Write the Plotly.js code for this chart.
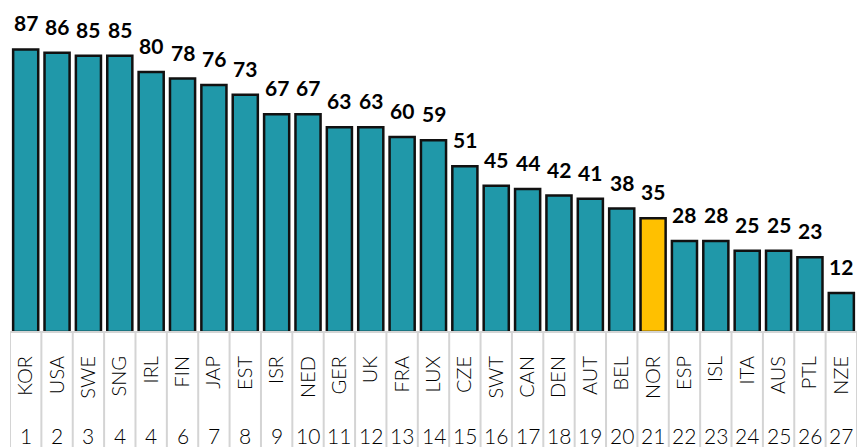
<!DOCTYPE html>
<html>
<head>
<meta charset="utf-8">
<script src="https://cdn.plot.ly/plotly-3.0.1.min.js"></script>
<style>html,body{margin:0;padding:0;background:#fff;}#chart{width:857px;height:447px;}</style>
</head>
<body>
<div id="chart"></div>
<script>
var countries = ["KOR","USA","SWE","SNG","IRL","FIN","JAP","EST","ISR","NED","GER","UK","FRA","LUX","CZE","SWT","CAN","DEN","AUT","BEL","NOR","ESP","ISL","ITA","AUS","PTL","NZE"];
var values = [87,86,85,85,80,78,76,73,67,67,63,63,60,59,51,45,44,42,41,38,35,28,28,25,25,23,12];
var ranks = ["1","2","3","4","4","6","7","8","9","10","11","12","13","14","15","16","17","18","19","20","21","22","23","24","25","26","27"];
var highlight = "NOR";

var teal = "#2098A9", gold = "#FFC000";
var colors = countries.map(function(c){ return c === highlight ? gold : teal; });
var idx = countries.map(function(c, i){ return i; });

var annotations = [];
values.forEach(function(v, i){
  annotations.push({x: i, y: v, xref: 'x', yref: 'y', text: String(v), showarrow: false,
    yanchor: 'bottom', yshift: 12, font: {family: 'Lato, sans-serif', size: 21, color: '#000', weight: 'bold'}});
});
ranks.forEach(function(r, i){
  annotations.push({x: i, y: 0, xref: 'x', yref: 'paper', text: r, showarrow: false,
    yanchor: 'middle', yshift: -103, font: {family: 'Lato, sans-serif', size: 21, color: '#000', weight: 300}});
});

var shapes = [];
for (var i = 0; i <= countries.length; i++) {
  shapes.push({type: 'line', xref: 'x', yref: 'paper', x0: i - 0.5, x1: i - 0.5, y0: 0, y1: -0.4,
    line: {color: '#d4d4d4', width: 2}});
}
shapes.push({type: 'line', xref: 'paper', yref: 'paper', x0: 0, x1: 1, y0: 0, y1: 0,
  line: {color: '#d4d4d4', width: 2}});

var trace = {
  type: 'bar', x: idx, y: values,
  marker: {color: colors, line: {color: '#111', width: 2.5}},
  hoverinfo: 'none'
};

var layout = {
  width: 857, height: 447,
  margin: {l: 10, r: 0, t: 0, b: 115},
  paper_bgcolor: '#fff', plot_bgcolor: '#fff',
  bargap: 0.2,
  showlegend: false,
  xaxis: {range: [-0.5, countries.length - 0.5], tickmode: 'array', tickvals: idx, ticktext: countries,
    tickangle: -90, ticks: 'outside', ticklen: 15, tickcolor: 'rgba(0,0,0,0)',
    tickfont: {family: 'Lato, sans-serif', size: 20, color: '#000', weight: 300},
    showgrid: false, zeroline: false, showline: false, fixedrange: true},
  yaxis: {range: [0, 102.2], visible: false, showgrid: false, zeroline: false, fixedrange: true},
  annotations: annotations,
  shapes: shapes
};

Plotly.newPlot('chart', [trace], layout, {displayModeBar: false, staticPlot: true});
</script>
</body>
</html>
